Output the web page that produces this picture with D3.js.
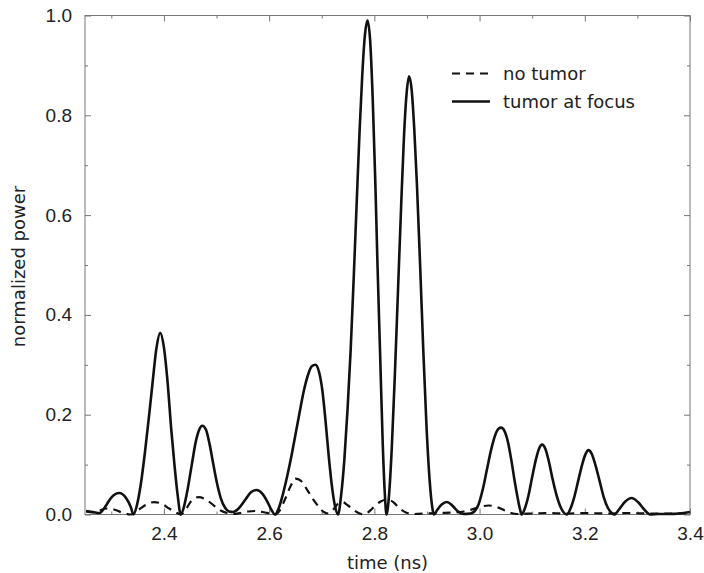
<!DOCTYPE html>
<html>
<head>
<meta charset="utf-8">
<script src="https://cdnjs.cloudflare.com/ajax/libs/d3/7.8.5/d3.min.js"></script>
<style>
  body { margin: 0; background: #fff; }
  svg { display: block; font-family: "DejaVu Sans", sans-serif; }
  .axis text { font-size: 19px; fill: #222; }
  .axis line { stroke: #777; }
  .axis path { display: none; }
</style>
</head>
<body>
<div id="chart"></div>
<script>
// time (ns) and normalized power
var tumorTime = [2.252, 2.265, 2.278, 2.288, 2.300, 2.315, 2.328, 2.337, 2.342,
  2.349, 2.356, 2.364, 2.372, 2.379, 2.386, 2.393, 2.400, 2.407, 2.414, 2.420, 2.426, 2.432,
  2.438, 2.445, 2.453, 2.461, 2.467, 2.473, 2.480, 2.487, 2.494, 2.501, 2.508, 2.516, 2.524, 2.531,
  2.542, 2.555, 2.566, 2.576, 2.587, 2.597, 2.605, 2.611,
  2.618, 2.626, 2.634, 2.642, 2.650, 2.658, 2.666, 2.674, 2.681, 2.688, 2.695, 2.701, 2.707, 2.713, 2.719, 2.725, 2.731,
  2.737, 2.743, 2.749, 2.755, 2.761, 2.767, 2.772, 2.777, 2.782, 2.787, 2.792, 2.797, 2.802, 2.806, 2.811, 2.816, 2.820, 2.823,
  2.828, 2.833, 2.839, 2.845, 2.851, 2.856, 2.861, 2.866, 2.871, 2.876, 2.881, 2.887, 2.893, 2.899, 2.905, 2.910, 2.913,
  2.920, 2.928, 2.938, 2.948, 2.958, 2.970, 2.983,
  2.990, 2.998, 3.006, 3.014, 3.022, 3.030, 3.036, 3.041, 3.047, 3.054, 3.061, 3.067, 3.073, 3.077, 3.080,
  3.086, 3.093, 3.100, 3.107, 3.113, 3.119, 3.125, 3.132, 3.139, 3.146, 3.154, 3.160, 3.166,
  3.172, 3.180, 3.188, 3.195, 3.201, 3.207, 3.213, 3.220, 3.228, 3.236, 3.244, 3.250, 3.256,
  3.265, 3.277, 3.289, 3.301, 3.313, 3.324, 3.340, 3.360, 3.380, 3.400];
var tumorPower = [0.007, 0.005, 0.003, 0.015, 0.034, 0.043, 0.033, 0.015, 0.0,
  0.02, 0.06, 0.125, 0.2, 0.27, 0.335, 0.364, 0.335, 0.265, 0.17, 0.1, 0.04, 0.0,
  0.015, 0.05, 0.1, 0.148, 0.17, 0.178, 0.17, 0.14, 0.1, 0.062, 0.033, 0.014, 0.006, 0.005,
  0.012, 0.03, 0.045, 0.049, 0.042, 0.025, 0.008, 0.0,
  0.012, 0.04, 0.075, 0.115, 0.16, 0.205, 0.248, 0.28, 0.297, 0.30, 0.285, 0.25, 0.19, 0.12, 0.06, 0.018, 0.0,
  0.04, 0.11, 0.21, 0.33, 0.48, 0.64, 0.77, 0.88, 0.96, 0.99, 0.95, 0.83, 0.66, 0.5, 0.32, 0.14, 0.04, 0.0,
  0.04, 0.13, 0.28, 0.45, 0.62, 0.75, 0.84, 0.878, 0.85, 0.77, 0.66, 0.5, 0.33, 0.18, 0.07, 0.015, 0.0,
  0.01, 0.02, 0.025, 0.018, 0.007, 0.001, 0.002,
  0.006, 0.02, 0.05, 0.09, 0.13, 0.16, 0.172, 0.174, 0.168, 0.145, 0.105, 0.065, 0.03, 0.01, 0.0,
  0.012, 0.038, 0.075, 0.11, 0.132, 0.14, 0.132, 0.105, 0.07, 0.04, 0.015, 0.004, 0.0,
  0.01, 0.035, 0.07, 0.1, 0.12, 0.129, 0.122, 0.1, 0.068, 0.035, 0.013, 0.004, 0.0,
  0.01, 0.026, 0.033, 0.025, 0.01, 0.0, 0.001, 0.001, 0.002, 0.005];

var noTumorTime = [2.252, 2.265, 2.278, 2.290, 2.305, 2.320, 2.337, 2.350, 2.365, 2.381, 2.395, 2.410, 2.425, 2.432,
  2.440, 2.452, 2.466, 2.480, 2.495, 2.508, 2.520, 2.530, 2.545, 2.560, 2.575, 2.592, 2.605, 2.611,
  2.620, 2.630, 2.640, 2.650, 2.660, 2.672, 2.684, 2.694, 2.704, 2.712, 2.722, 2.731, 2.739, 2.750, 2.762, 2.772, 2.779,
  2.790, 2.800, 2.812, 2.824, 2.836, 2.848, 2.860, 2.875, 2.900, 2.925, 2.950, 2.970, 2.985, 3.000, 3.017, 3.033, 3.048, 3.060, 3.071,
  3.100, 3.130, 3.160, 3.200, 3.240, 3.280, 3.320, 3.360, 3.400];
var noTumorPower = [0.006, 0.004, 0.008, 0.012, 0.01, 0.004, 0.0, 0.008, 0.019, 0.025, 0.022, 0.012, 0.003, 0.0,
  0.008, 0.027, 0.035, 0.03, 0.018, 0.008, 0.003, 0.001, 0.003, 0.006, 0.007, 0.004, 0.001, 0.0,
  0.008, 0.03, 0.055, 0.072, 0.068, 0.05, 0.03, 0.016, 0.005, 0.002, 0.01, 0.022, 0.025, 0.018, 0.008, 0.002, 0.0,
  0.006, 0.016, 0.026, 0.03, 0.025, 0.012, 0.004, 0.001, 0.002, 0.003, 0.004, 0.006, 0.01, 0.015, 0.018, 0.015, 0.008, 0.003, 0.001,
  0.002, 0.003, 0.002, 0.003, 0.002, 0.003, 0.002, 0.002, 0.003];

var xMajor = [2.4, 2.6, 2.8, 3.0, 3.2, 3.4];
var xMinor = [2.3, 2.5, 2.7, 2.9, 3.1, 3.3];
var yMajor = [0.0, 0.2, 0.4, 0.6, 0.8, 1.0];
var yMinor = [0.1, 0.3, 0.5, 0.7, 0.9];
var legendLabels = ["no tumor", "tumor at focus"];

var W = 704, H = 573;
var margin = {top: 15.5, right: 14, bottom: 58.5, left: 85};
var width = W - margin.left - margin.right;
var height = H - margin.top - margin.bottom;

var svg = d3.select("#chart").append("svg")
    .attr("width", W)
    .attr("height", H)
  .append("g")
    .attr("transform", "translate(" + margin.left + "," + margin.top + ")");

var x = d3.scaleLinear().domain([2.25, 3.4]).range([0, width]);
var y = d3.scaleLinear().domain([0, 1]).range([height, 0]);

// frame
svg.append("rect")
  .attr("width", width)
  .attr("height", height)
  .attr("fill", "none")
  .attr("stroke", "#777")
  .attr("stroke-width", 1);

// inward ticks on all four sides, major and minor
function addAxis(axis, tr) {
  svg.append("g").attr("class", "axis").attr("transform", tr).call(axis);
}
addAxis(d3.axisBottom(x).tickValues(xMajor).tickFormat(d3.format(".1f"))
  .tickSizeInner(-6).tickSizeOuter(0).tickPadding(12), "translate(0," + height + ")");
addAxis(d3.axisBottom(x).tickValues(xMinor).tickFormat("")
  .tickSizeInner(-3).tickSizeOuter(0), "translate(0," + height + ")");
addAxis(d3.axisTop(x).tickValues(xMajor).tickFormat("")
  .tickSizeInner(-6).tickSizeOuter(0), "translate(0,0)");
addAxis(d3.axisTop(x).tickValues(xMinor).tickFormat("")
  .tickSizeInner(-3).tickSizeOuter(0), "translate(0,0)");
addAxis(d3.axisLeft(y).tickValues(yMajor).tickFormat(d3.format(".1f"))
  .tickSizeInner(-6).tickSizeOuter(0).tickPadding(13), "translate(0,0)");
addAxis(d3.axisLeft(y).tickValues(yMinor).tickFormat("")
  .tickSizeInner(-3).tickSizeOuter(0), "translate(0,0)");
addAxis(d3.axisRight(y).tickValues(yMajor).tickFormat("")
  .tickSizeInner(-6).tickSizeOuter(0), "translate(" + width + ",0)");
addAxis(d3.axisRight(y).tickValues(yMinor).tickFormat("")
  .tickSizeInner(-3).tickSizeOuter(0), "translate(" + width + ",0)");

// curves
var line = d3.line()
  .x(function(d) { return x(d[0]); })
  .y(function(d) { return y(d[1]); })
  .curve(d3.curveMonotoneX);

var noTumor = d3.zip(noTumorTime, noTumorPower);
var tumor = d3.zip(tumorTime, tumorPower);

svg.append("path")
  .datum(noTumor)
  .attr("d", line)
  .attr("fill", "none")
  .attr("stroke", "#111")
  .attr("stroke-width", 2.2)
  .attr("stroke-dasharray", "8,6");

svg.append("path")
  .datum(tumor)
  .attr("d", line)
  .attr("fill", "none")
  .attr("stroke", "#111")
  .attr("stroke-width", 2.6)
  .attr("stroke-linejoin", "round");

// axis labels
svg.append("text")
  .attr("text-anchor", "middle")
  .attr("x", width / 2)
  .attr("y", height + 54)
  .style("font-size", "18px")
  .attr("fill", "#222")
  .text("time (ns)");

svg.append("text")
  .attr("transform", "rotate(-90)")
  .attr("x", -(266.5 - margin.top))
  .attr("y", 25 - margin.left)
  .style("text-anchor", "middle")
  .style("font-size", "18px")
  .attr("fill", "#222")
  .text("normalized power");

// legend
var legend = svg.selectAll(".legend")
  .data(legendLabels)
  .enter().append("g")
  .attr("class", "legend")
  .attr("transform", function(d, i) { return "translate(" + (452 - margin.left) + "," + (73.5 - margin.top + i * 28) + ")"; });

legend.append("line")
  .attr("x1", 0).attr("x2", 38)
  .attr("stroke", "#111")
  .attr("stroke-width", function(d, i) { return i === 0 ? 2.2 : 2.6; })
  .attr("stroke-dasharray", function(d, i) { return i === 0 ? "8,6" : null; });

legend.append("text")
  .attr("x", 51)
  .attr("dy", "0.35em")
  .style("font-size", "18px")
  .attr("fill", "#222")
  .text(function(d) { return d; });
</script>
</body>
</html>
